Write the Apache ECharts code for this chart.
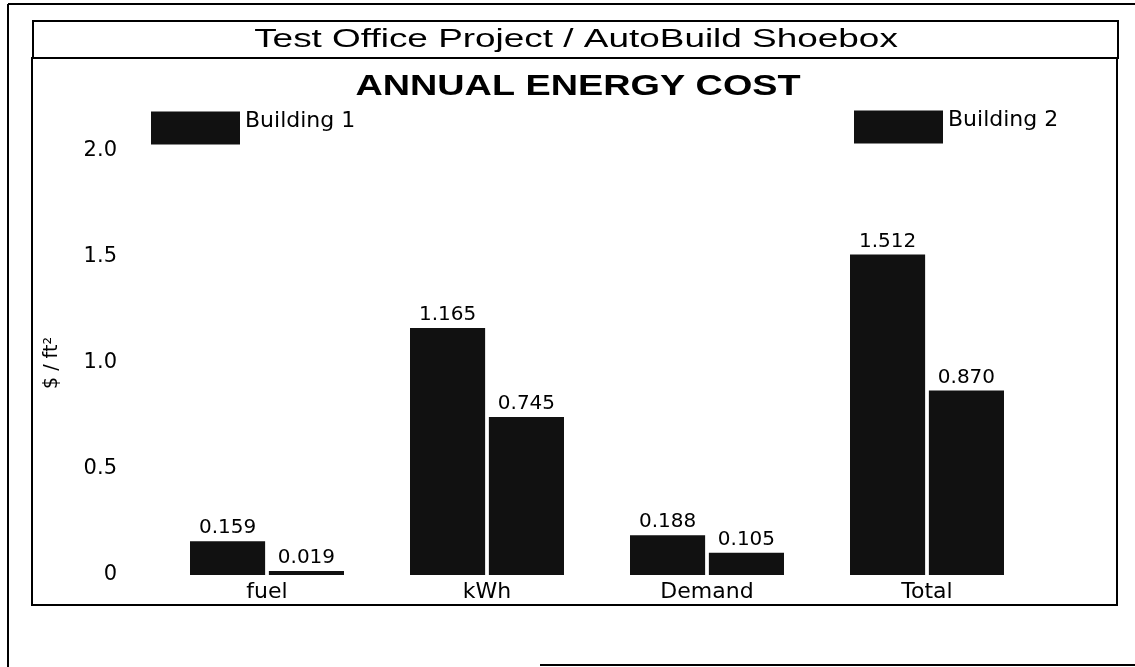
<!DOCTYPE html>
<html>
<head>
<meta charset="utf-8">
<script src="https://cdn.jsdelivr.net/npm/echarts@6/dist/echarts.min.js"></script>
<style>
  html, body { margin: 0; padding: 0; background: #fff; }
  #chart { width: 1135px; height: 667px; }
</style>
</head>
<body>
<div id="chart"></div>
<script>
const categories = ['fuel', 'kWh', 'Demand', 'Total']
const building1 = [0.159, 1.165, 0.188, 1.512]
const building2 = [0.019, 0.745, 0.105, 0.870]
const yTicks = [0, 0.5, 1.0, 1.5, 2.0]

const font = '"Liberation Sans", Arial, sans-serif'
const wideFont = '"DejaVu Sans", sans-serif'
const barColor = '#111'

const myChart = echarts.init(document.getElementById('chart'))

const labelOpt = {
    show: true,
    position: 'top',
    distance: 3,
    color: '#000',
    fontFamily: wideFont,
    fontSize: 20,
    formatter: p => p.value.toFixed(3)
}

// legend text sits a little above the swatch centre in the scan
const legendText = {
    fontFamily: wideFont,
    fontSize: 22,
    color: '#000',
    rich: { t: { fontFamily: wideFont, fontSize: 22, color: '#000', padding: [0, 0, 14, 0] } }
}

myChart.setOption({
    backgroundColor: '#fff',
    animation: false,
    graphic: [
        // outer frame pieces
        { type: 'line', shape: { x1: 8, y1: 4, x2: 1135, y2: 4 }, style: { stroke: '#000', lineWidth: 2 } },
        { type: 'line', shape: { x1: 8, y1: 4, x2: 8, y2: 667 }, style: { stroke: '#000', lineWidth: 2 } },
        { type: 'line', shape: { x1: 540, y1: 665, x2: 1135, y2: 665 }, style: { stroke: '#000', lineWidth: 2 } },
        // header box
        { type: 'rect', shape: { x: 33, y: 21, width: 1085, height: 37 }, style: { fill: 'none', stroke: '#000', lineWidth: 2 } },
        // chart box
        { type: 'rect', shape: { x: 32, y: 58, width: 1085, height: 547 }, style: { fill: 'none', stroke: '#000', lineWidth: 2 } },
        {
            type: 'text', x: 576, y: 40, scaleX: 1.42,
            style: {
                text: 'Test Office Project / AutoBuild Shoebox',
                font: '26px ' + font, fill: '#000',
                align: 'center', verticalAlign: 'middle'
            }
        },
        {
            type: 'text', x: 578, y: 87, scaleX: 1.26,
            style: {
                text: 'ANNUAL ENERGY COST',
                font: 'bold 30px ' + font, fill: '#000',
                align: 'center', verticalAlign: 'middle'
            }
        }
    ],
    legend: [
        {
            data: ['Building 1'],
            left: 146, top: 105,
            icon: 'rect',
            itemWidth: 89, itemHeight: 33,
            itemGap: 10,
            formatter: '{t|{name}}',
            textStyle: legendText,
            selectedMode: false
        },
        {
            data: ['Building 2'],
            left: 849, top: 104,
            icon: 'rect',
            itemWidth: 89, itemHeight: 33,
            formatter: '{t|{name}}',
            textStyle: legendText,
            selectedMode: false
        }
    ],
    grid: {
        left: 157,
        right: 98,
        top: 151,
        bottom: 92
    },
    xAxis: {
        type: 'category',
        data: categories,
        axisLine: { show: false },
        axisTick: { show: false },
        axisLabel: {
            color: '#000',
            fontFamily: wideFont,
            fontSize: 22,
            margin: 6
        }
    },
    yAxis: {
        type: 'value',
        min: 0,
        max: 2.0,
        interval: 0.5,
        name: '$ / ft²',
        nameLocation: 'middle',
        nameGap: 95,
        nameTextStyle: { color: '#000', fontFamily: wideFont, fontSize: 19 },
        splitLine: { show: false },
        axisLine: { show: false },
        axisTick: { show: false },
        axisLabel: {
            color: '#000',
            fontFamily: wideFont,
            fontSize: 21,
            margin: 40,
            formatter: v => {
                const t = yTicks.find(x => Math.abs(x - v) < 1e-9)
                return t === 0 ? '0' : t.toFixed(1)
            }
        }
    },
    series: [
        {
            name: 'Building 1',
            type: 'bar',
            data: building1,
            barCategoryGap: '30%',
            barGap: '5%',
            itemStyle: { color: barColor },
            label: labelOpt
        },
        {
            name: 'Building 2',
            type: 'bar',
            data: building2,
            itemStyle: { color: barColor },
            label: labelOpt
        }
    ]
})
</script>
</body>
</html>
